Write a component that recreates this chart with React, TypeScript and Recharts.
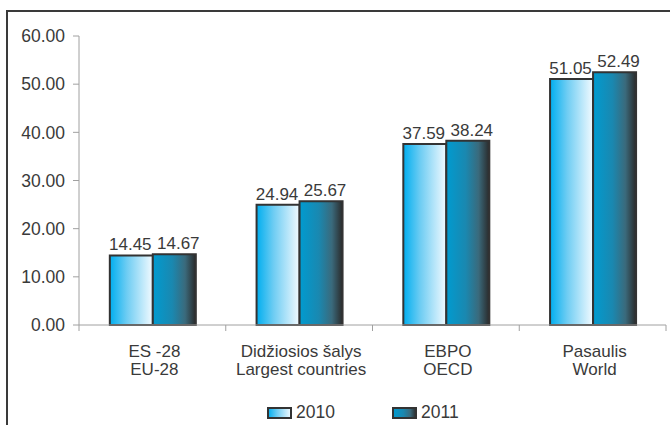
import React from 'react'
import {
  BarChart,
  Bar,
  XAxis,
  YAxis,
  LabelList,
  Legend,
} from 'recharts'

const categories = [
  ['ES -28', 'EU-28'],
  ['Didžiosios šalys', 'Largest countries'],
  ['EBPO', 'OECD'],
  ['Pasaulis', 'World'],
]
const values2010 = [14.45, 24.94, 37.59, 51.05]
const values2011 = [14.67, 25.67, 38.24, 52.49]
const yTicks = [0, 10, 20, 30, 40, 50, 60]

const data = categories.map((c, i) => ({
  name: c.join('\n'),
  y2010: values2010[i],
  y2011: values2011[i],
}))

const W = 670
const H = 425
const LEFT = 79
const RIGHT = 4
const PLOT_W = W - LEFT - RIGHT
const BAND = PLOT_W / categories.length
const FONT = '"Liberation Sans", Arial, sans-serif'
const TEXT = '#3a3a3a'
const AXIS = '#a0a0a0'

function CategoryTick(props: any) {
  const { x, y, payload, index } = props
  const lines = String(payload.value).split('\n')
  return (
    <g>
      {index === 0 && (
        <line x1={x - BAND / 2} x2={x - BAND / 2} y1={y - 6} y2={y} stroke={AXIS} />
      )}
      <line x1={x + BAND / 2} x2={x + BAND / 2} y1={y - 6} y2={y} stroke={AXIS} />
      <text x={x} y={y} textAnchor="middle" fill={TEXT} fontSize={17} fontFamily={FONT}>
        {lines.map((l, i) => (
          <tspan key={i} x={x + 2} dy={i === 0 ? 26 : 18}>
            {l}
          </tspan>
        ))}
      </text>
    </g>
  )
}

function Gradients({ suffix = '' }: { suffix?: string }) {
  return (
    <>
      <linearGradient id={`g2010${suffix}`} x1="0" y1="0" x2="1" y2="0">
        <stop offset="0%" stopColor="#00aeef" />
        <stop offset="40%" stopColor="#6fcdf3" />
        <stop offset="100%" stopColor="#f2faff" />
      </linearGradient>
      <linearGradient id={`g2011${suffix}`} x1="0" y1="0" x2="1" y2="0">
        <stop offset="0%" stopColor="#009bd0" />
        <stop offset="45%" stopColor="#1a88b0" />
        <stop offset="75%" stopColor="#3a6a7c" />
        <stop offset="100%" stopColor="#2a2a2a" />
      </linearGradient>
    </>
  )
}

function Swatch({ id }: { id: string }) {
  return (
    <svg width={25} height={12} style={{ verticalAlign: 'middle' }}>
      <defs>
        <Gradients suffix="-lg" />
      </defs>
      <rect x={1} y={1} width={23} height={10} fill={`url(#${id}-lg)`} stroke="#333" strokeWidth={2} />
    </svg>
  )
}

function LegendContent() {
  const item = (id: string, label: string) => (
    <span style={{ display: 'inline-flex', alignItems: 'center', width: 125 }}>
      <Swatch id={id} />
      <span style={{ marginLeft: 4, fontSize: 17.5, color: TEXT, fontFamily: FONT }}>{label}</span>
    </span>
  )
  return (
    <div style={{ height: 30, paddingLeft: 267, paddingTop: 7, boxSizing: 'border-box', textAlign: 'left' }}>
      {item('g2010', '2010')}
      {item('g2011', '2011')}
    </div>
  )
}

export default function App() {
  return (
    <div
      style={{
        position: 'fixed',
        left: 0,
        top: 0,
        width: W,
        height: H,
        overflow: 'hidden',
        background: '#fff',
      }}
    >
      <div
        style={{
          position: 'absolute',
          left: 6,
          top: 10,
          width: 800,
          height: 600,
          border: '2px solid #3a3a3a',
        }}
      />
      <BarChart
        width={W}
        height={H}
        data={data}
        margin={{ top: 36, right: RIGHT, bottom: 0, left: 0 }}
        barCategoryGap="21%"
        barGap={0}
      >
        <defs>
          <Gradients />
        </defs>
        <XAxis
          dataKey="name"
          height={70}
          axisLine={{ stroke: AXIS }}
          tickLine={{ stroke: 'none' }}
          tickSize={6}
          tickMargin={0}
          interval={0}
          tick={<CategoryTick />}
        />
        <XAxis
          xAxisId="top"
          dataKey="name"
          orientation="top"
          height={0}
          tick={false}
          tickLine={false}
          axisLine={{ stroke: AXIS }}
        />
        <YAxis
          width={LEFT}
          domain={[0, 60]}
          ticks={yTicks}
          interval={0}
          tickFormatter={(v: number) => v.toFixed(2)}
          axisLine={{ stroke: AXIS }}
          tickLine={{ stroke: AXIS }}
          tickSize={6}
          tickMargin={8}
          tick={{ fill: TEXT, fontSize: 17.5, fontFamily: FONT }}
        />
        <YAxis
          yAxisId="right"
          orientation="right"
          width={0}
          domain={[0, 60]}
          tick={false}
          tickLine={false}
          axisLine={{ stroke: AXIS }}
        />
        <Legend verticalAlign="bottom" wrapperStyle={{ left: 0, width: W }} content={<LegendContent />} />
        <Bar dataKey="y2010" name="2010" fill="url(#g2010)" stroke="#333" strokeWidth={2} isAnimationActive={false}>
          <LabelList
            dataKey="y2010"
            position="top"
            formatter={(v: number) => v.toFixed(2)}
            fill={TEXT}
            fontSize={17}
            fontFamily={FONT}
            dx={-1}
          />
        </Bar>
        <Bar dataKey="y2011" name="2011" fill="url(#g2011)" stroke="#333" strokeWidth={2} isAnimationActive={false}>
          <LabelList
            dataKey="y2011"
            position="top"
            formatter={(v: number) => v.toFixed(2)}
            fill={TEXT}
            fontSize={17}
            fontFamily={FONT}
            dx={4}
          />
        </Bar>
      </BarChart>
    </div>
  )
}
